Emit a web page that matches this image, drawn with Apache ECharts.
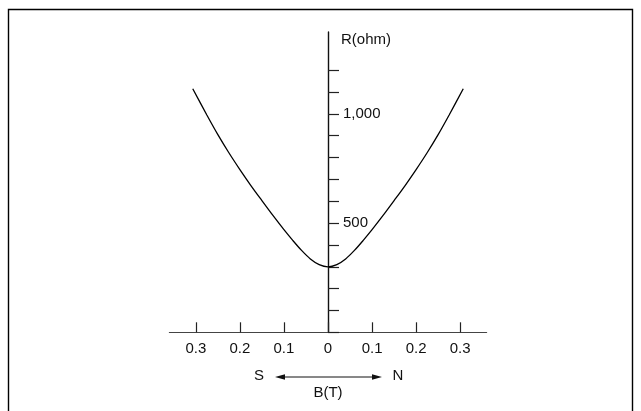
<!DOCTYPE html>
<html>
<head>
<meta charset="utf-8">
<script src="https://cdn.jsdelivr.net/npm/echarts@6/dist/echarts.min.js"></script>
<style>
html,body{margin:0;padding:0;background:#fff;}
#c{width:641px;height:411px;}
</style>
</head>
<body>
<div id="c"></div>
<script>
// Magnetic field B (T), negative = S side, positive = N side
var fieldB = [-0.307, -0.275, -0.25, -0.225, -0.2, -0.175, -0.15, -0.125, -0.1, -0.08, -0.06, -0.04, -0.02, 0,
              0.02, 0.04, 0.06, 0.08, 0.1, 0.125, 0.15, 0.175, 0.2, 0.225, 0.25, 0.275, 0.307];
// Resistance R (ohm)
var resistance = [1115, 995, 905, 822, 745, 672, 603, 535, 470, 421, 375, 336, 310, 300,
                  310, 336, 375, 421, 470, 535, 603, 672, 745, 822, 905, 995, 1115];
var xTickValues = [-0.3, -0.2, -0.1, 0, 0.1, 0.2, 0.3];
var yTickValues = [0, 100, 200, 300, 400, 500, 600, 700, 800, 900, 1000, 1100, 1200];
var yLabelValues = [500, 1000];

var FONT = 'Liberation Sans, Arial, sans-serif';
var chart = echarts.init(document.getElementById('c'), null, {renderer: 'canvas'});
var data = fieldB.map(function (b, i) { return [b, resistance[i]]; });

chart.setOption({
  animation: false,
  backgroundColor: '#fff',
  grid: {left: 169.4, top: 32, width: 317.2, height: 300.3, containLabel: false},
  xAxis: {
    type: 'value', min: -0.36, max: 0.36,
    name: 'B(T)', nameLocation: 'middle', nameGap: 53,
    nameTextStyle: {fontFamily: FONT, fontSize: 15, color: '#111'},
    axisLine: {show: true, onZero: false, lineStyle: {color: '#444', width: 1.2}},
    axisTick: {show: true, inside: true, length: 10, customValues: xTickValues, lineStyle: {color: '#222', width: 1.2}},
    axisLabel: {customValues: xTickValues, margin: 9, fontFamily: FONT, fontSize: 15, color: '#111',
      formatter: function (v) { var a = Math.abs(v); return a === 0 ? '0' : a.toFixed(1); }},
    splitLine: {show: false}
  },
  yAxis: {
    type: 'value', min: 0, max: 1375, position: 'left', offset: -158.6,
    name: 'R(ohm)', nameLocation: 'end', nameGap: -8,
    nameTextStyle: {fontFamily: FONT, fontSize: 15, color: '#111', align: 'left', verticalAlign: 'middle', padding: [0, 0, 0, 13]},
    axisLine: {show: true, onZero: false, lineStyle: {color: '#111', width: 1.4}},
    axisTick: {show: true, inside: true, length: 11, customValues: yTickValues, lineStyle: {color: '#222', width: 1.2}},
    axisLabel: {show: true, inside: true, customValues: yLabelValues, margin: 15, fontFamily: FONT, fontSize: 15, color: '#111',
      formatter: function (v) { return v === 1000 ? '1,000' : String(v); }},
    splitLine: {show: false}
  },
  series: [{
    type: 'line', data: data, smooth: 0.3, symbol: 'none',
    lineStyle: {color: '#000', width: 1.3}
  }],
  graphic: [
    {type: 'polyline', shape: {points: [[8.5, 412], [8.5, 9.5], [632.5, 9.5], [632.5, 412]]}, style: {stroke: '#000', lineWidth: 1.4, fill: null}},
    {type: 'line', shape: {x1: 283, y1: 377, x2: 374, y2: 377}, style: {stroke: '#111', lineWidth: 1}},
    {type: 'polygon', shape: {points: [[275, 377], [285, 374.2], [285, 379.8]]}, style: {fill: '#111'}},
    {type: 'polygon', shape: {points: [[382, 377], [372, 374.2], [372, 379.8]]}, style: {fill: '#111'}},
    {type: 'text', x: 259, y: 376, style: {text: 'S', fontFamily: FONT, fontSize: 15, fill: '#111', align: 'center', verticalAlign: 'middle'}},
    {type: 'text', x: 398, y: 376, style: {text: 'N', fontFamily: FONT, fontSize: 15, fill: '#111', align: 'center', verticalAlign: 'middle'}}
  ]
});
</script>
</body>
</html>
